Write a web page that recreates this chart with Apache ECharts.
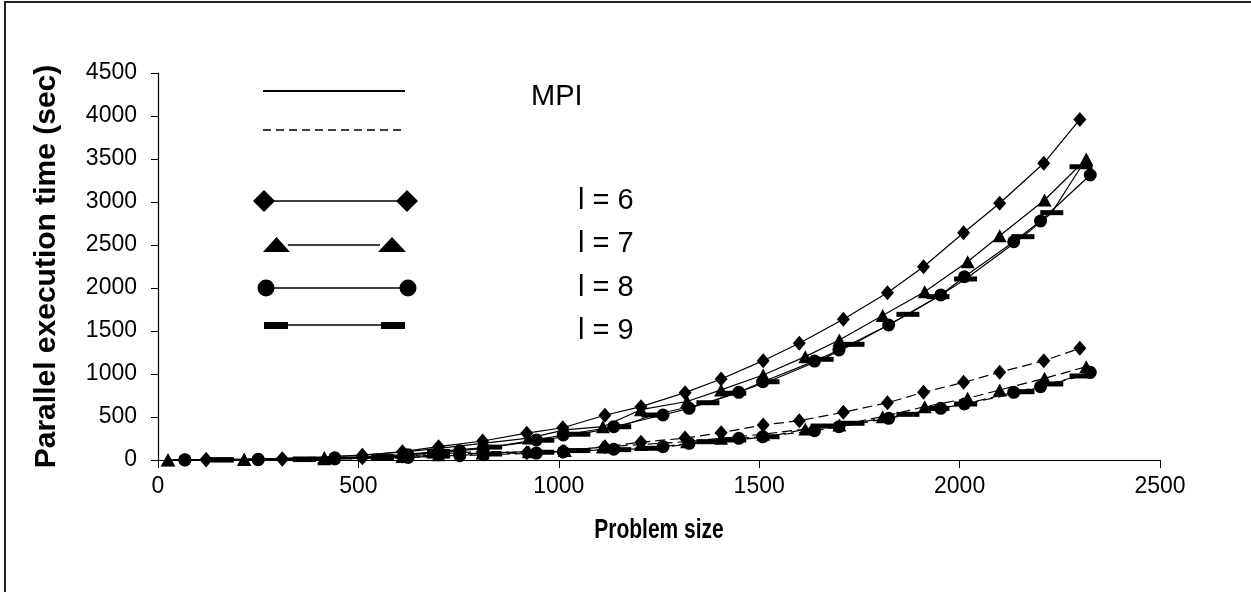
<!DOCTYPE html>
<html>
<head>
<meta charset="utf-8">
<script src="https://cdn.jsdelivr.net/npm/echarts@6/dist/echarts.min.js"></script>
<style>
html, body {margin: 0; padding: 0; background: #fff;}
#chart {width: 1251px; height: 592px;}
</style>
</head>
<body>
<div id="chart"></div>
<script>
// 问题规模 (横轴), 每个 l 的取值点不一样
var x6 = [120, 310, 510, 610, 700, 810, 920, 1010, 1115, 1205, 1315, 1405, 1510, 1600, 1710, 1820, 1910, 2010, 2100, 2210, 2300];
var x7 = [25, 215, 415, 610, 700, 810, 925, 1015, 1110, 1205, 1320, 1405, 1510, 1615, 1700, 1808, 1913, 2020, 2100, 2212, 2316];
var x8 = [67, 250, 441, 624, 753, 812, 944, 1011, 1137, 1260, 1325, 1449, 1509, 1638, 1699, 1823, 1953, 2012, 2135, 2202, 2326];
var x9 = [160, 365, 560, 700, 830, 960, 1050, 1152, 1235, 1372, 1439, 1522, 1657, 1734, 1871, 1946, 2015, 2158, 2230, 2303];

// MPI (实线)
var mpi6 = [5, 15, 55, 97, 155, 221, 312, 375, 520, 620, 783, 942, 1155, 1357, 1636, 1945, 2248, 2643, 2985, 3450, 3960];
var mpi7 = [2, 8, 30, 90, 136, 194, 255, 350, 387, 585, 680, 815, 988, 1202, 1395, 1680, 1957, 2306, 2608, 3023, 3500];
var mpi8 = [2, 8, 25, 60, 108, 136, 233, 291, 387, 523, 601, 787, 910, 1150, 1279, 1570, 1919, 2131, 2538, 2779, 3314];
var mpi9 = [3, 12, 40, 100, 150, 230, 300, 387, 523, 666, 776, 910, 1171, 1345, 1694, 1899, 2105, 2597, 2876, 3410];

// 虚线那一组
var dash6 = [2, 8, 25, 45, 70, 100, 85, 100, 155, 206, 255, 318, 407, 457, 555, 666, 787, 903, 1020, 1155, 1299];
var dash7 = [1, 5, 15, 40, 60, 80, 97, 110, 150, 180, 213, 252, 300, 360, 407, 504, 620, 717, 814, 950, 1085];
var dash8 = [1, 4, 12, 30, 50, 60, 80, 95, 125, 155, 194, 252, 271, 341, 387, 485, 601, 651, 787, 853, 1020];
var dash9 = [1, 5, 20, 45, 70, 90, 110, 120, 136, 213, 233, 271, 395, 427, 531, 600, 651, 794, 884, 977];

var xTicks = [0, 500, 1000, 1500, 2000, 2500];
var yTicks = [0, 500, 1000, 1500, 2000, 2500, 3000, 3500, 4000, 4500];

var legendLabels = ["MPI", "l = 6", "l = 7", "l = 8", "l = 9"];
var xTitle = "Problem size";
var yTitle = "Parallel execution time (sec)";

var FONT = "'Liberation Sans', Arial, sans-serif";

function pairs(xs, ys){
    var res = [];
    for (var i = 0; i < xs.length; i ++)
        res.push([xs[i], ys[i]]);
    return res;
}

// 每个 l 的标记样式
var marks = {
    6: {symbol: 'diamond', size: [13, 15]},
    7: {symbol: 'triangle', size: [14, 13]},
    8: {symbol: 'circle', size: 13},
    9: {symbol: 'rect', size: [23, 5]}
};

function makeSeries(name, xs, ys, l, dashed){
    return {
        type: 'line',
        name: name,
        data: pairs(xs, ys),
        symbol: marks[l].symbol,
        symbolSize: marks[l].size,
        showAllSymbol: true,
        animation: false,
        itemStyle: {color: '#000'},
        lineStyle: {color: '#000', width: 1.2, type: dashed ? [10, 5] : 'solid'},
        emphasis: {disabled: true}
    };
}

var series = [
    makeSeries('MPI l=6', x6, mpi6, 6, false),
    makeSeries('MPI l=7', x7, mpi7, 7, false),
    makeSeries('MPI l=8', x8, mpi8, 8, false),
    makeSeries('MPI l=9', x9, mpi9, 9, false),
    makeSeries('l=6', x6, dash6, 6, true),
    makeSeries('l=7', x7, dash7, 7, true),
    makeSeries('l=8', x8, dash8, 8, true),
    makeSeries('l=9', x9, dash9, 9, true)
];

// 图内手画的图例
var legendGraphics = [
    {type: 'line', shape: {x1: 263, y1: 91, x2: 405, y2: 91}, style: {stroke: '#000', lineWidth: 2}},
    {type: 'line', shape: {x1: 263, y1: 130, x2: 405, y2: 130}, style: {stroke: '#000', lineWidth: 1.5, lineDash: [8, 5]}},
    // l = 6
    {type: 'line', shape: {x1: 264, y1: 201, x2: 407, y2: 201}, style: {stroke: '#000', lineWidth: 1.5}},
    {type: 'polygon', shape: {points: [[253, 201], [264, 190], [275, 201], [264, 212]]}, style: {fill: '#000'}},
    {type: 'polygon', shape: {points: [[396, 201], [407, 190], [418, 201], [407, 212]]}, style: {fill: '#000'}},
    // l = 7
    {type: 'line', shape: {x1: 288, y1: 245, x2: 380, y2: 245}, style: {stroke: '#000', lineWidth: 1.5}},
    {type: 'polygon', shape: {points: [[263, 252], [290, 252], [276.5, 237]]}, style: {fill: '#000'}},
    {type: 'polygon', shape: {points: [[378, 252], [406, 252], [392, 237]]}, style: {fill: '#000'}},
    // l = 8
    {type: 'line', shape: {x1: 266, y1: 288, x2: 408, y2: 288}, style: {stroke: '#000', lineWidth: 1.5}},
    {type: 'circle', shape: {cx: 266, cy: 288, r: 8.5}, style: {fill: '#000'}},
    {type: 'circle', shape: {cx: 408, cy: 288, r: 8.5}, style: {fill: '#000'}},
    // l = 9
    {type: 'line', shape: {x1: 270, y1: 325, x2: 400, y2: 325}, style: {stroke: '#000', lineWidth: 1.5}},
    {type: 'rect', shape: {x: 264, y: 322, width: 24, height: 7}, style: {fill: '#000'}},
    {type: 'rect', shape: {x: 381, y: 322, width: 24, height: 7}, style: {fill: '#000'}},
    // 文字
    {type: 'text', x: 531, y: 97, style: {text: legendLabels[0], font: '29px ' + FONT, fill: '#000', verticalAlign: 'middle'}},
    {type: 'text', x: 578, y: 201, style: {text: legendLabels[1], font: '29px ' + FONT, fill: '#000', verticalAlign: 'middle'}},
    {type: 'text', x: 578, y: 244, style: {text: legendLabels[2], font: '29px ' + FONT, fill: '#000', verticalAlign: 'middle'}},
    {type: 'text', x: 578, y: 288, style: {text: legendLabels[3], font: '29px ' + FONT, fill: '#000', verticalAlign: 'middle'}},
    {type: 'text', x: 578, y: 331, style: {text: legendLabels[4], font: '29px ' + FONT, fill: '#000', verticalAlign: 'middle'}},
    // 横轴标题, 原图是窄高的字
    {type: 'text', x: 659, y: 530, scaleY: 1.35,
     style: {text: xTitle, font: 'bold 21px ' + FONT, fill: '#000', align: 'center', verticalAlign: 'middle'}},
    // 外框
    {type: 'rect', shape: {x: 5, y: 2, width: 1400, height: 800}, style: {fill: null, stroke: '#222', lineWidth: 2}}
];

var option = {
    backgroundColor: '#fff',
    animation: false,
    grid: {left: 158, right: 91, top: 73, bottom: 132},
    xAxis: {
        type: 'value',
        min: xTicks[0],
        max: xTicks[xTicks.length - 1],
        interval: 500,
        axisLine: {lineStyle: {color: '#000', width: 1.2}},
        axisTick: {length: 8, lineStyle: {color: '#000'}},
        axisLabel: {fontFamily: FONT, fontSize: 23, color: '#000', margin: 15,
                    formatter: function(v){ return String(v); }},
        splitLine: {show: false}
    },
    yAxis: {
        type: 'value',
        min: yTicks[0],
        max: yTicks[yTicks.length - 1],
        interval: 500,
        name: yTitle,
        nameLocation: 'middle',
        nameGap: 96,
        nameTextStyle: {fontFamily: FONT, fontSize: 30, fontWeight: 'bold', color: '#000'},
        axisLine: {show: true, lineStyle: {color: '#000', width: 1.2}},
        axisTick: {show: true, length: 7, lineStyle: {color: '#000'}},
        axisLabel: {fontFamily: FONT, fontSize: 23, color: '#000', margin: 21,
                    formatter: function(v){ return String(v); }},
        splitLine: {show: false}
    },
    graphic: legendGraphics,
    series: series
};

var chart = echarts.init(document.getElementById('chart'));
chart.setOption(option);
</script>
</body>
</html>
